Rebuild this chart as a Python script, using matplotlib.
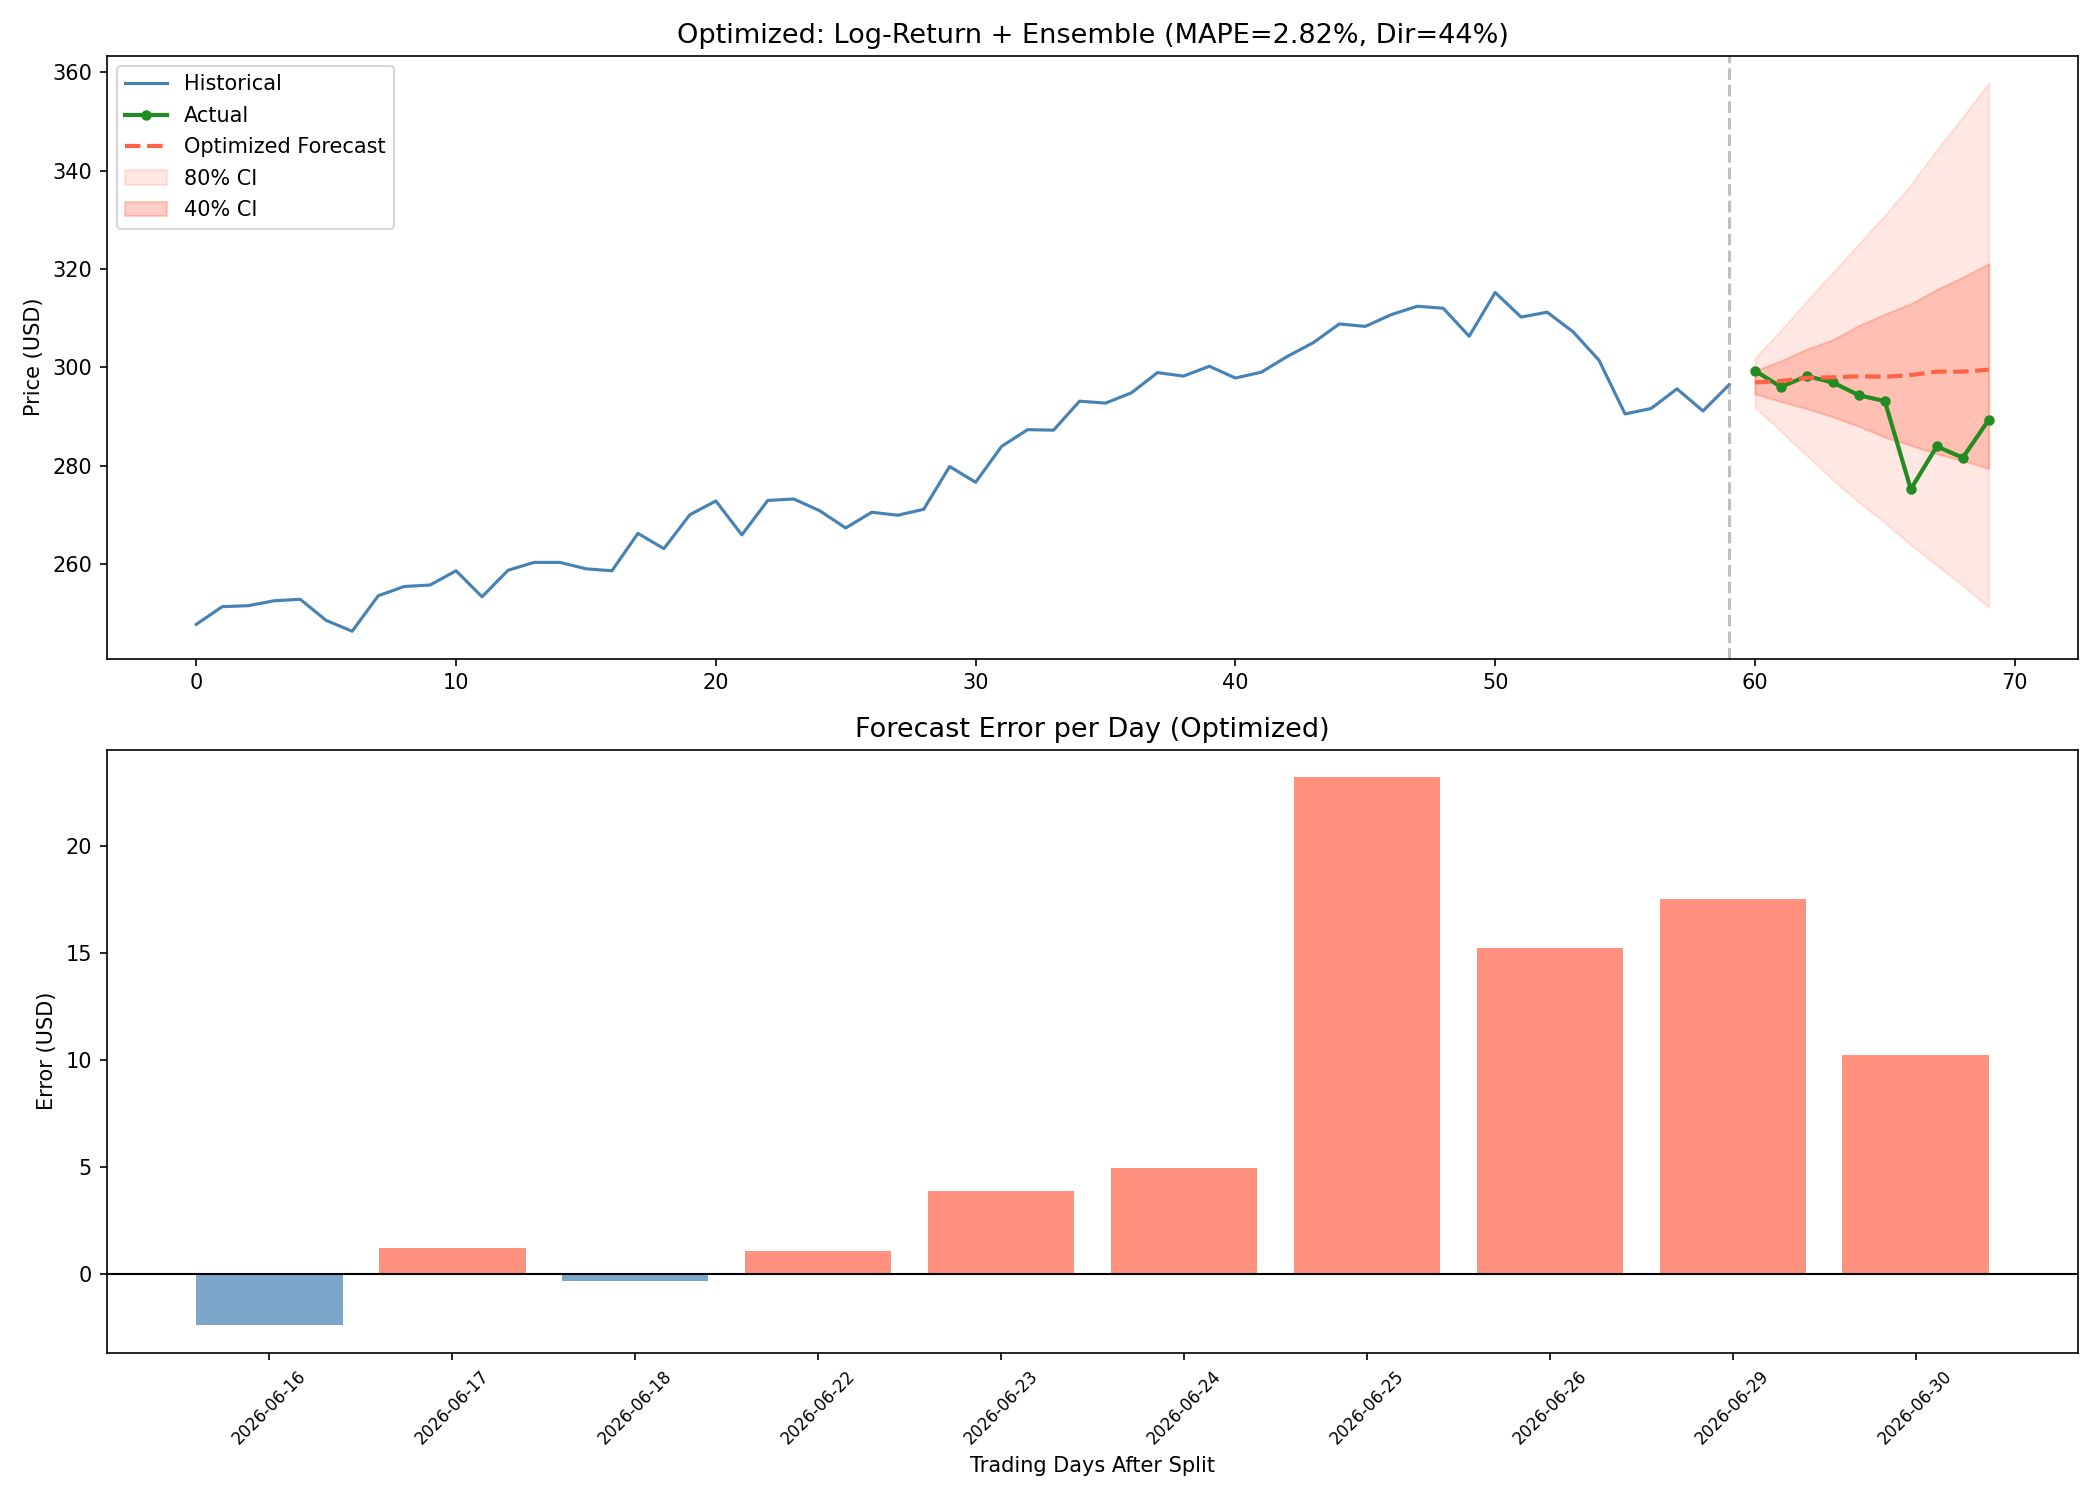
import matplotlib
matplotlib.use('Agg')
import matplotlib.pyplot as plt
import numpy as np

# 历史价格 (0..59)
historical = [247.7, 251.3, 251.5, 252.5, 252.8, 248.5, 246.3, 253.5, 255.4, 255.7,
              258.6, 253.3, 258.7, 260.3, 260.3, 259.0, 258.6, 266.2, 263.1, 270.0,
              272.8, 265.9, 272.9, 273.2, 270.8, 267.3, 270.5, 269.9, 271.1, 279.8,
              276.6, 283.9, 287.3, 287.2, 293.1, 292.7, 294.8, 298.9, 298.2, 300.2,
              297.8, 299.0, 302.2, 305.0, 308.8, 308.3, 310.7, 312.4, 312.0, 306.3,
              315.2, 310.2, 311.2, 307.2, 301.4, 290.5, 291.6, 295.6, 291.1, 296.4]

# 测试期 (60..69)
actual = [299.3, 296.0, 298.2, 296.9, 294.3, 293.1, 275.2, 283.9, 281.6, 289.3]
forecast = [296.9, 297.2, 297.85, 297.95, 298.15, 298.05, 298.4, 299.1, 299.1, 299.5]
ci80_low = [291.8, 287.0, 282.0, 277.1, 272.5, 268.4, 263.9, 259.7, 255.6, 251.2]
ci80_high = [301.9, 307.5, 313.5, 319.3, 325.1, 330.9, 337.1, 344.2, 350.9, 357.8]
ci40_low = [294.6, 293.0, 291.6, 289.9, 288.0, 285.8, 284.1, 282.4, 281.0, 279.4]
ci40_high = [299.3, 301.3, 303.7, 305.6, 308.5, 310.8, 312.9, 315.8, 318.3, 321.1]

dates = ['2026-06-16', '2026-06-17', '2026-06-18', '2026-06-22', '2026-06-23',
         '2026-06-24', '2026-06-25', '2026-06-26', '2026-06-29', '2026-06-30']

mape = 2.82
dir_acc = 44

split = len(historical) - 1
x_hist = np.arange(len(historical))
x_test = np.arange(len(historical), len(historical) + len(actual))

fig, (ax1, ax2) = plt.subplots(2, 1, figsize=(14, 10), dpi=150)

# 上图: 价格与预测
ax1.plot(x_hist, historical, color='steelblue', linewidth=1.5, label='Historical')
ax1.plot(x_test, actual, color='forestgreen', marker='o', markersize=4, linewidth=2, label='Actual')
ax1.plot(x_test, forecast, color='tomato', linestyle='--', linewidth=2, label='Optimized Forecast')
ax1.fill_between(x_test, ci80_low, ci80_high, color='tomato', alpha=0.15, label='80% CI')
ax1.fill_between(x_test, ci40_low, ci40_high, color='tomato', alpha=0.3, label='40% CI')
ax1.axvline(split, color='gray', linestyle='--', alpha=0.5)
ax1.set_title(f'Optimized: Log-Return + Ensemble (MAPE={mape:.2f}%, Dir={dir_acc}%)', fontsize=13)
ax1.set_ylabel('Price (USD)')
ax1.legend(loc='upper left', labelspacing=0.55)

# 下图: 每日误差
errors = np.array(forecast) - np.array(actual)
colors = ['tomato' if e > 0 else 'steelblue' for e in errors]
ax2.bar(range(len(errors)), errors, color=colors, alpha=0.7)
ax2.axhline(0, color='black', linewidth=1)
ax2.set_xticks(range(len(dates)))
ax2.set_xticklabels(dates, rotation=45, fontsize=8)
ax2.set_title('Forecast Error per Day (Optimized)', fontsize=13)
ax2.set_xlabel('Trading Days After Split')
ax2.set_ylabel('Error (USD)')

plt.subplots_adjust(left=0.0508, right=0.9897, top=0.9629, bottom=0.0982, hspace=0.151)
plt.savefig('out.png', dpi=150)
